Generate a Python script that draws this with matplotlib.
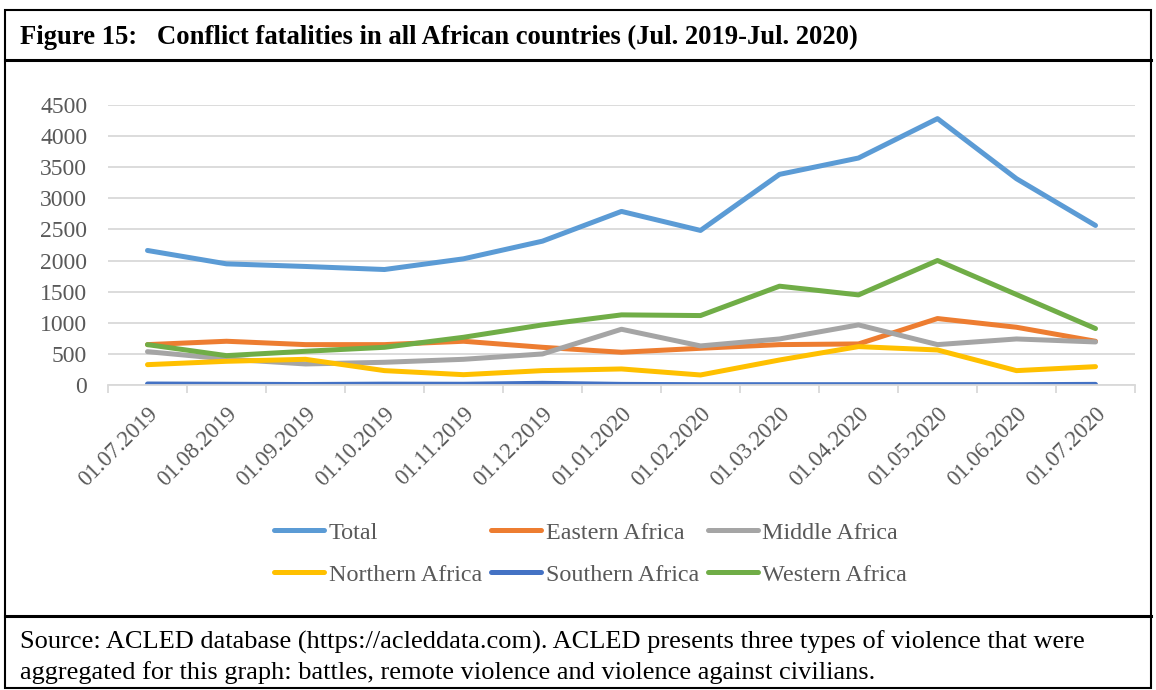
import matplotlib
matplotlib.use("Agg")
import matplotlib.pyplot as plt
from matplotlib.lines import Line2D
from matplotlib.patches import Rectangle

# Monthly conflict fatalities by African region
months = ["01.07.2019", "01.08.2019", "01.09.2019", "01.10.2019", "01.11.2019",
          "01.12.2019", "01.01.2020", "01.02.2020", "01.03.2020", "01.04.2020",
          "01.05.2020", "01.06.2020", "01.07.2020"]

total = [2162, 1947, 1905, 1856, 2028, 2312, 2790, 2484, 3385, 3648, 4281, 3315, 2564]
eastern = [649, 703, 649, 649, 703, 606, 526, 590, 649, 660, 1068, 928, 703]
middle = [536, 418, 338, 365, 413, 499, 896, 628, 740, 966, 649, 740, 692]
northern = [327, 381, 413, 231, 166, 231, 258, 161, 402, 617, 563, 231, 295]
southern = [16, 12, 8, 14, 12, 27, 10, 5, 5, 5, 5, 5, 10]
western = [649, 472, 542, 606, 767, 966, 1127, 1116, 1588, 1448, 2001, 1454, 907]

series_names = ["Total", "Eastern Africa", "Middle Africa",
                "Northern Africa", "Southern Africa", "Western Africa"]
series_values = [total, eastern, middle, northern, southern, western]
series_colors = ["#5B9BD5", "#ED7D31", "#A5A5A5", "#FFC000", "#4472C4", "#70AD47"]

yticks = [0, 500, 1000, 1500, 2000, 2500, 3000, 3500, 4000, 4500]

title = "Figure 15:   Conflict fatalities in all African countries (Jul. 2019-Jul. 2020)"
source_lines = [
    "Source: ACLED database (https://acleddata.com). ACLED presents three types of violence that were",
    "aggregated for this graph: battles, remote violence and violence against civilians.",
]

W, H = 1156, 690
fig = plt.figure(figsize=(W / 100, H / 100), dpi=100)
fig.patch.set_facecolor("white")

serif = ["Liberation Serif", "DejaVu Serif"]
tick_color = "#595959"
grid_color = "#D9D9D9"


def fx(px):
    return px / W


def fy(py):
    return 1 - py / H


# Plot area
left, right, top, bottom = 108, 1135, 105, 385
ax = fig.add_axes([fx(left), fy(bottom), fx(right - left), (bottom - top) / H])

x = list(range(len(months)))
handles = []
for name, vals, col in zip(series_names, series_values, series_colors):
    (ln,) = ax.plot(x, vals, color=col, lw=3.6, solid_capstyle="round",
                    solid_joinstyle="round", label=name)
    handles.append(ln)

ax.set_xlim(-0.5, len(months) - 0.5)
ax.set_ylim(0, 4500)
ax.set_yticks(yticks)
ax.set_yticklabels([str(v) for v in yticks], fontfamily=serif, fontsize=17,
                   color=tick_color)
ax.yaxis.grid(True, color=grid_color, lw=1.3)
ax.set_axisbelow(True)
ax.tick_params(axis="y", length=0, pad=15)

ax.set_xticks(x)
ax.set_xticklabels(months, rotation=45, ha="right", va="top",
                   rotation_mode="anchor", fontfamily=serif, fontsize=16.5,
                   color=tick_color)
ax.tick_params(axis="x", which="major", length=0, pad=13)
ax.set_xticks([i - 0.5 for i in range(len(months) + 1)], minor=True)
ax.tick_params(axis="x", which="minor", length=6, color=grid_color, width=1.3)

for s in ["top", "right", "left"]:
    ax.spines[s].set_visible(False)
ax.spines["bottom"].set_color(grid_color)
ax.spines["bottom"].set_linewidth(1.3)

# Legend laid out row by row in three columns
order = [0, 3, 1, 4, 2, 5]
leg = fig.legend([handles[i] for i in order], [series_names[i] for i in order],
                 ncol=3, frameon=False, loc="upper left",
                 bbox_to_anchor=(fx(274), fy(522)),
                 prop={"family": serif, "size": 17.4}, handlelength=2.07,
                 handletextpad=0.2, columnspacing=0.36, labelspacing=0.82,
                 borderpad=0, borderaxespad=0)
for t in leg.get_texts():
    t.set_color(tick_color)

# Framed box: outer border, title separator and source separator
fig.add_artist(Rectangle((fx(5), fy(688)), fx(1151 - 5), (688 - 10) / H,
                         transform=fig.transFigure, fill=False,
                         edgecolor="black", lw=1.5))
for py in (60, 616):
    fig.add_artist(Line2D([fx(5), fx(1151)], [fy(py), fy(py)],
                          transform=fig.transFigure, color="black", lw=2.2))

fig.text(fx(20), fy(37), title, fontfamily=serif, fontweight="bold",
         fontsize=19.2, va="center", ha="left", color="black")
for i, line in enumerate(source_lines):
    fig.text(fx(20), fy(642 + 31 * i), line, fontfamily=serif, fontsize=19,
             va="center", ha="left", color="black")

fig.savefig("out.png", dpi=100, facecolor="white")
